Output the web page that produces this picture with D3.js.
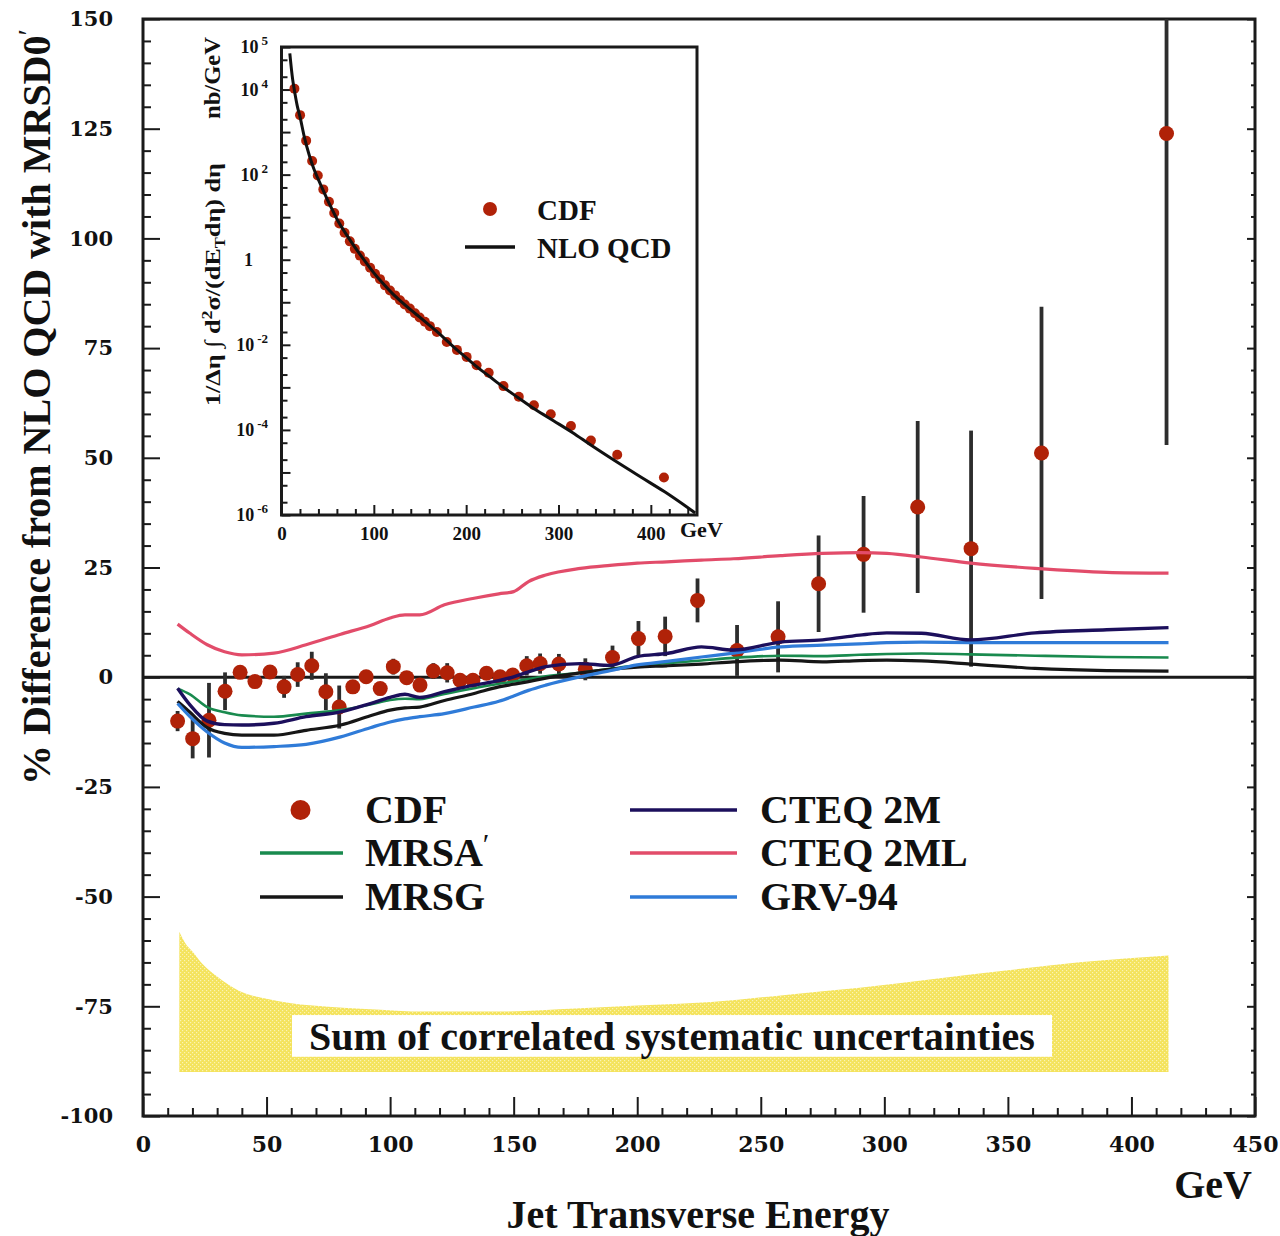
<!DOCTYPE html>
<html>
<head>
<meta charset="utf-8">
<script src="https://cdn.jsdelivr.net/npm/d3@7"></script>
<style>
  html, body { margin: 0; padding: 0; background: #fff; }
  svg { display: block; }
</style>
</head>
<body>
<svg id="chart" width="1280" height="1236"></svg>
<script>
// ---- CDF inclusive jet data: ET bins, % difference from NLO QCD (MRSD0'), errors ----
const cdfEt = [14.0, 20.1, 26.7, 33.2, 39.3, 45.3, 51.4, 57.1, 62.6, 68.3, 74.0, 79.4, 84.9, 90.3, 96.0,
  101.3, 106.7, 112.1, 117.5, 123.1, 128.3, 133.5, 139.0, 144.5, 149.6, 155.3, 160.7, 168.3, 179.0, 190.0,
  200.5, 211.3, 224.4, 240.4, 257.0, 273.4, 291.6, 313.5, 335.1, 363.6, 414.2];
const cdfDiff = [-10.0, -14.0, -9.8, -3.2, 1.1, -1.0, 1.2, -2.2, 0.6, 2.6, -3.3, -6.8, -2.2, 0.1, -2.6,
  2.4, -0.1, -1.8, 1.4, 1.0, -0.7, -0.7, 0.9, 0.1, 0.5, 2.6, 3.1, 3.0, 1.8, 4.5,
  8.8, 9.3, 17.5, 6.1, 9.2, 21.3, 28.0, 38.8, 29.3, 51.1, 123.9];
const cdfErr = [2.3, 4.5, 8.5, 4.3, 1.0, 1.0, 1.0, 2.5, 2.8, 3.2, 4.2, 4.9, 1.5, 1.5, 1.5,
  1.8, 1.0, 1.0, 1.8, 2.2, 1.5, 1.0, 1.0, 1.5, 1.5, 2.2, 2.3, 2.3, 2.5, 2.7,
  4.0, 4.5, 5.0, 5.8, 8.1, 11.0, 13.3, 19.6, 26.9, 33.3, 71.0];

// ---- PDF predictions relative to MRSD0' (%) ----
const pdfEt = [14, 19, 26, 33, 40, 53, 66, 80, 92, 100, 106, 112, 122, 134, 144, 150, 156, 163,
  177, 189, 200, 212, 226, 239, 258, 275, 290, 301, 315, 335, 361, 390, 415];
const mrsaPrime = [-2.6, -3.9, -6.8, -8.0, -8.7, -9.0, -8.3, -7.5, -6.2, -5.2, -4.9, -5.0, -3.8, -2.5, -1.5, -1.0, -0.4, 0.2,
  1.0, 1.9, 2.7, 3.2, 3.8, 4.4, 4.9, 4.8, 5.1, 5.3, 5.4, 5.2, 4.9, 4.6, 4.5];
const mrsg = [-5.5, -8.0, -11.5, -12.8, -13.2, -13.2, -12.1, -10.9, -8.8, -7.5, -7.0, -6.8, -5.3, -3.7, -2.2, -1.6, -1.0, -0.2,
  1.0, 1.8, 2.3, 2.6, 3.0, 3.5, 3.9, 3.5, 3.8, 3.9, 3.7, 3.0, 2.0, 1.5, 1.4];
const cteq2m = [-2.5, -6.3, -10.0, -10.8, -10.9, -10.5, -9.0, -7.9, -6.0, -4.6, -3.9, -4.6, -3.3, -1.8, -0.8, 0.1, 1.2, 2.4,
  3.1, 2.7, 4.7, 5.4, 6.9, 6.2, 8.0, 8.5, 9.6, 10.1, 10.0, 8.5, 10.1, 10.8, 11.3];
const cteq2ml = [12.1, 10.0, 7.4, 5.8, 5.1, 5.5, 7.4, 9.8, 11.8, 13.5, 14.2, 14.2, 16.5, 18.0, 19.0, 19.5, 21.8, 23.3,
  24.8, 25.5, 26.0, 26.3, 26.7, 27.0, 27.7, 28.2, 28.4, 28.2, 27.4, 26.0, 24.8, 23.9, 23.7];
const grv94 = [-6.0, -9.0, -12.5, -15.0, -16.0, -15.8, -15.3, -13.6, -11.5, -10.2, -9.5, -9.0, -8.3, -6.8, -5.5, -4.3, -3.0, -1.8,
  0.1, 1.5, 2.8, 3.6, 4.6, 5.5, 6.9, 7.3, 7.6, 7.9, 8.0, 7.9, 7.9, 7.9, 7.9];

// ---- Sum of correlated systematic uncertainties (band, %) ----
const systEt = [14.7, 17, 20, 24, 30, 39, 50, 60, 75, 90, 115, 145, 175, 200, 230, 260, 290, 320, 350, 380, 415];
const systUpper = [-58.0, -60.5, -62.5, -65.3, -68.2, -71.5, -73.3, -74.3, -75.1, -75.6, -76.2, -76.2, -75.5, -74.8,
  -74.0, -72.4, -70.8, -68.8, -66.8, -64.9, -63.4];
const systLower = [-90, -90, -90, -90, -90, -90, -90, -90, -90, -90, -90, -90, -90, -90, -90, -90, -90, -90, -90, -90, -90];

// ---- Inset: cross section (nb/GeV) ----
const cdfXsec = [1.05e4, 2.5e3, 6.3e2, 2.1e2, 9.5e1, 4.5e1, 2.3e1, 1.25e1, 7.1, 4.3, 2.7, 1.8, 1.25, 0.91, 0.65,
  0.47, 0.35, 0.25, 0.19, 0.145, 0.112, 0.089, 0.071, 0.055, 0.044, 0.035, 0.0275, 0.020, 0.0117, 0.0076,
  0.0052, 0.0033, 0.0022, 0.00107, 0.0006, 0.00038, 0.000234, 0.000123, 0.000056, 0.000026, 0.0000076];
const nloEt = [9, 12, 14, 17, 20, 25, 30, 35, 40, 45, 50, 55, 60, 70, 80, 90, 100, 110, 120, 130, 140, 150, 160,
  170, 180, 190, 200, 212, 225, 240, 256, 275, 295, 315, 335, 365, 390, 415, 448];
const nloXsec = [7.1e4, 1.78e4, 9.5e3, 4.2e3, 2.3e3, 7.2e2, 2.9e2, 1.38e2, 7.6e1, 4.3e1, 2.5e1, 1.5e1, 9.1, 4.0, 1.9,
  0.95, 0.49, 0.275, 0.162, 0.102, 0.066, 0.044, 0.029, 0.019, 0.012, 7.6e-3, 5.0e-3, 3.0e-3, 1.82e-3, 1.02e-3,
  5.8e-4, 3.0e-4, 1.62e-4, 8.7e-5, 4.4e-5, 1.66e-5, 7.6e-6, 3.5e-6, 1.12e-6];

// ---- Axis ticks ----
const yMajorTicks = [-100, -75, -50, -25, 0, 25, 50, 75, 100, 125, 150];
const xMajorTicks = [0, 50, 100, 150, 200, 250, 300, 350, 400, 450];
const insetXTicks = [0, 100, 200, 300, 400];
const insetYLabelled = [5, 4, 2, 0, -2, -4, -6];

// ---- Series styling ----
const series = [
  { name: "MRSA", prime: true, values: mrsaPrime, color: "#198a4e", width: 2.6 },
  { name: "MRSG", values: mrsg, color: "#161616", width: 3.2 },
  { name: "GRV-94", values: grv94, color: "#2f7bd8", width: 3.2 },
  { name: "CTEQ 2M", values: cteq2m, color: "#1c0f5c", width: 3.4 },
  { name: "CTEQ 2ML", values: cteq2ml, color: "#e24c6a", width: 3.2 }
];
const dotColor = "#b02208";
const barColor = "#2d2d2d";
const serif = "'Liberation Serif', 'Times New Roman', serif";
const digits = "'DejaVu Serif', serif";
const plain = d => String(d);   // ASCII hyphen for negatives

const svg = d3.select("#chart");

const x = d3.scaleLinear().domain([0, 450]).range([143, 1255]);
const y = d3.scaleLinear().domain([-100, 150]).range([1116, 19]);

const defs = svg.append("defs");
const pat = defs.append("pattern").attr("id", "stipple")
  .attr("patternUnits", "userSpaceOnUse").attr("width", 4).attr("height", 4);
pat.append("rect").attr("width", 4).attr("height", 4).attr("fill", "#f4e35c");
pat.append("rect").attr("x", 0).attr("y", 0).attr("width", 1.2).attr("height", 1.2).attr("fill", "#fbf3b4");
pat.append("rect").attr("x", 2).attr("y", 2).attr("width", 1.2).attr("height", 1.2).attr("fill", "#fbf3b4");
defs.append("clipPath").attr("id", "plotClip").append("rect")
  .attr("x", x(0)).attr("y", y(150)).attr("width", x(450) - x(0)).attr("height", y(-100) - y(150));

// ---- Systematic band ----
const band = systEt.map((e, i) => ({ e, hi: systUpper[i], lo: systLower[i] }));
svg.append("path").datum(band)
  .attr("fill", "url(#stipple)")
  .attr("d", d3.area().x(d => x(d.e)).y0(d => y(d.lo)).y1(d => y(d.hi)).curve(d3.curveMonotoneX));

const bandLabel = "Sum of correlated systematic uncertainties";
svg.append("rect").attr("x", 292).attr("y", y(-77)).attr("width", 760).attr("height", y(-86.5) - y(-77))
  .attr("fill", "#fff");
svg.append("text").attr("x", 672).attr("y", y(-85))
  .attr("text-anchor", "middle").attr("font-family", serif).attr("font-weight", "bold")
  .attr("font-size", 40).attr("fill", "#111").text(bandLabel);

// ---- Axes ----
function styleAxis(g) {
  g.select(".domain").remove();
  g.selectAll(".tick line").attr("stroke", "#1a1a1a").attr("stroke-width", 2);
  g.selectAll(".tick text").attr("font-family", digits).attr("font-weight", "bold").attr("fill", "#111");
}
const yMinor = d3.range(-100, 151, 5).filter(v => v % 25 !== 0);
const xMinor = d3.range(0, 451, 10).filter(v => v % 50 !== 0);

svg.append("g").attr("transform", `translate(${x(0)},0)`)
  .call(d3.axisLeft(y).tickValues(yMajorTicks).tickSizeInner(-17).tickSizeOuter(0).tickPadding(30)
    .tickFormat(plain))
  .call(styleAxis).call(g => g.selectAll(".tick text").attr("font-size", 21));
svg.append("g").attr("transform", `translate(${x(0)},0)`)
  .call(d3.axisLeft(y).tickValues(yMinor).tickSizeInner(-8).tickSizeOuter(0).tickFormat(""))
  .call(styleAxis);
svg.append("g").attr("transform", `translate(${x(450)},0)`)
  .call(d3.axisRight(y).tickValues(yMajorTicks).tickSizeInner(-8).tickSizeOuter(0).tickFormat(""))
  .call(styleAxis);
svg.append("g").attr("transform", `translate(${x(450)},0)`)
  .call(d3.axisRight(y).tickValues(yMinor).tickSizeInner(-4).tickSizeOuter(0).tickFormat(""))
  .call(styleAxis);
svg.append("g").attr("transform", `translate(0,${y(-100)})`)
  .call(d3.axisBottom(x).tickValues(xMajorTicks).tickSizeInner(-19).tickSizeOuter(0).tickPadding(20)
    .tickFormat(plain))
  .call(styleAxis).call(g => g.selectAll(".tick text").attr("font-size", 22));
svg.append("g").attr("transform", `translate(0,${y(-100)})`)
  .call(d3.axisBottom(x).tickValues(xMinor).tickSizeInner(-8).tickSizeOuter(0).tickFormat(""))
  .call(styleAxis);

// frame
svg.append("rect").attr("x", x(0)).attr("y", y(150)).attr("width", x(450) - x(0)).attr("height", y(-100) - y(150))
  .attr("fill", "none").attr("stroke", "#1a1a1a").attr("stroke-width", 3);
// zero line
svg.append("line").attr("x1", x(0)).attr("x2", x(450)).attr("y1", y(0)).attr("y2", y(0))
  .attr("stroke", "#1a1a1a").attr("stroke-width", 3);

// ---- CDF points with error bars ----
const cdf = cdfEt.map((e, i) => ({ e, v: cdfDiff[i], err: cdfErr[i] }));
const plot = svg.append("g").attr("clip-path", "url(#plotClip)");
plot.selectAll("line.err").data(cdf).join("line").attr("class", "err")
  .attr("x1", d => x(d.e)).attr("x2", d => x(d.e))
  .attr("y1", d => y(d.v - d.err)).attr("y2", d => y(d.v + d.err))
  .attr("stroke", barColor).attr("stroke-width", 3.8);
plot.selectAll("circle.pt").data(cdf).join("circle").attr("class", "pt")
  .attr("cx", d => x(d.e)).attr("cy", d => y(d.v)).attr("r", 7.5).attr("fill", dotColor);

// ---- PDF curves ----
const line = d3.line().x(d => x(d.e)).y(d => y(d.v)).curve(d3.curveMonotoneX);
series.forEach(s => {
  plot.append("path").datum(pdfEt.map((e, i) => ({ e, v: s.values[i] })))
    .attr("fill", "none").attr("stroke", s.color).attr("stroke-width", s.width)
    .attr("stroke-linejoin", "round").attr("d", line);
});

// ---- Main legend ----
const leg = svg.append("g").attr("font-family", serif).attr("font-weight", "bold").attr("font-size", 40).attr("fill", "#111");
const legendRows = [
  { col: 0, row: 0, label: "CDF", dot: true },
  { col: 0, row: 1, label: "MRSA", prime: true, color: "#198a4e" },
  { col: 0, row: 2, label: "MRSG", color: "#161616" },
  { col: 1, row: 0, label: "CTEQ 2M", color: "#1c0f5c" },
  { col: 1, row: 1, label: "CTEQ 2ML", color: "#e24c6a" },
  { col: 1, row: 2, label: "GRV-94", color: "#2f7bd8" }
];
const colX = [{ l0: 260, l1: 343, t: 365 }, { l0: 630, l1: 737, t: 760 }];
const rowY = [810, 853, 897];
legendRows.forEach(r => {
  const c = colX[r.col], yy = rowY[r.row];
  if (r.dot) {
    leg.append("circle").attr("cx", (c.l0 + c.l1) / 2 - 1).attr("cy", yy).attr("r", 10).attr("fill", dotColor);
  } else {
    leg.append("line").attr("x1", c.l0).attr("x2", c.l1).attr("y1", yy).attr("y2", yy)
      .attr("stroke", r.color).attr("stroke-width", 3.5);
  }
  const t = leg.append("text").attr("x", c.t).attr("y", yy + 13).text(r.label);
  if (r.prime) t.append("tspan").attr("font-weight", "normal").attr("font-size", 30).attr("dy", -12).text("\u2032");
});

// ---- Axis titles ----
svg.append("text").attr("transform", `translate(50,785) rotate(-90)`)
  .attr("font-family", serif).attr("font-weight", "bold").attr("font-size", 40).attr("fill", "#111")
  .text("% Difference from NLO QCD with MRSD0")
  .append("tspan").attr("font-weight", "normal").attr("font-size", 30).attr("dy", -12).text("\u2032");
svg.append("text").attr("x", 698).attr("y", 1228).attr("text-anchor", "middle")
  .attr("font-family", serif).attr("font-weight", "bold").attr("font-size", 40).attr("fill", "#111")
  .text("Jet Transverse Energy");
svg.append("text").attr("x", 1252).attr("y", 1198).attr("text-anchor", "end")
  .attr("font-family", serif).attr("font-weight", "bold").attr("font-size", 40).attr("fill", "#111")
  .text("GeV");

// ---- Inset: cross section vs ET ----
const xi = d3.scaleLinear().domain([0, 450]).range([281.5, 697]);
const yi = d3.scaleLog().domain([1e-6, 1e5]).range([515, 47]);
const inset = svg.append("g");
inset.append("rect").attr("x", xi(0)).attr("y", yi(1e5)).attr("width", xi(450) - xi(0)).attr("height", yi(1e-6) - yi(1e5))
  .attr("fill", "#fff");

const decades = d3.range(-6, 6).map(p => Math.pow(10, p));
const minorLog = d3.range(-6, 5).flatMap(p => [2 * Math.pow(10, p), 5 * Math.pow(10, p)]);
inset.append("g").attr("transform", `translate(${xi(0)},0)`)
  .call(d3.axisLeft(yi).tickValues(decades).tickSizeInner(-9).tickSizeOuter(0).tickFormat(""))
  .call(styleAxis);
inset.append("g").attr("transform", `translate(${xi(0)},0)`)
  .call(d3.axisLeft(yi).tickValues(minorLog).tickSizeInner(-6).tickSizeOuter(0).tickFormat(""))
  .call(styleAxis);
inset.append("g").attr("transform", `translate(0,${yi(1e-6)})`)
  .call(d3.axisBottom(xi).tickValues(insetXTicks).tickSizeInner(-10).tickSizeOuter(0).tickPadding(12)
    .tickFormat(plain))
  .call(styleAxis)
  .call(g => g.selectAll(".tick text").attr("font-family", serif).attr("font-size", 19));
inset.append("g").attr("transform", `translate(0,${yi(1e-6)})`)
  .call(d3.axisBottom(xi).tickValues(d3.range(20, 450, 20).filter(v => v % 100 !== 0))
    .tickSizeInner(-6).tickSizeOuter(0).tickFormat(""))
  .call(styleAxis);

// exponent tick labels
const ylab = inset.append("g").attr("font-family", serif).attr("font-weight", "bold").attr("fill", "#111");
insetYLabelled.forEach(p => {
  const yy = yi(Math.pow(10, p));
  if (p === 0) {
    ylab.append("text").attr("x", 253).attr("y", yy + 6).attr("text-anchor", "end").attr("font-size", 18).text("1");
  } else {
    const t = ylab.append("text").attr("x", 268).attr("y", yy + 6).attr("text-anchor", "end").attr("font-size", 18);
    t.append("tspan").text("10");
    t.append("tspan").attr("dx", 3).attr("dy", -8).attr("font-size", 13).text(p);
  }
});

inset.append("text").attr("x", 680).attr("y", 537).attr("font-family", serif).attr("font-weight", "bold")
  .attr("font-size", 22).attr("fill", "#111").text("GeV");

// rotated inset y title
const it = inset.append("text").attr("transform", "translate(220,406) rotate(-90)")
  .attr("font-family", serif).attr("font-weight", "bold").attr("font-size", 22).attr("fill", "#111")
  .attr("textLength", 243).attr("lengthAdjust", "spacingAndGlyphs");
it.append("tspan").text("1/\u0394\u03b7 \u222b d");
it.append("tspan").attr("font-size", 15).attr("dy", -8).text("2");
it.append("tspan").attr("dy", 8).text("\u03c3/(dE");
it.append("tspan").attr("font-size", 14).attr("dy", 5).text("T");
it.append("tspan").attr("dy", -5).text("d\u03b7) d\u03b7");
inset.append("text").attr("transform", "translate(220,119) rotate(-90)")
  .attr("font-family", serif).attr("font-weight", "bold").attr("font-size", 23).attr("fill", "#111")
  .attr("textLength", 82).attr("lengthAdjust", "spacingAndGlyphs")
  .text("nb/GeV");

// data and NLO curve
const cdfX = cdfEt.map((e, i) => ({ e, v: cdfXsec[i] }));
inset.selectAll("circle.ipt").data(cdfX).join("circle").attr("class", "ipt")
  .attr("cx", d => xi(d.e)).attr("cy", d => yi(d.v)).attr("r", 5).attr("fill", dotColor);
inset.append("path").datum(nloEt.map((e, i) => ({ e, v: nloXsec[i] })))
  .attr("fill", "none").attr("stroke", "#111").attr("stroke-width", 3)
  .attr("d", d3.line().x(d => xi(d.e)).y(d => yi(d.v)).curve(d3.curveMonotoneX));

inset.append("rect").attr("x", xi(0)).attr("y", yi(1e5)).attr("width", xi(450) - xi(0)).attr("height", yi(1e-6) - yi(1e5))
  .attr("fill", "none").attr("stroke", "#1a1a1a").attr("stroke-width", 3);

// inset legend
const il = inset.append("g").attr("font-family", serif).attr("font-weight", "bold").attr("font-size", 29).attr("fill", "#111");
il.append("circle").attr("cx", 490).attr("cy", 209).attr("r", 7).attr("fill", dotColor);
il.append("text").attr("x", 537).attr("y", 220).text("CDF");
il.append("line").attr("x1", 465).attr("x2", 515).attr("y1", 247).attr("y2", 247).attr("stroke", "#111").attr("stroke-width", 3.5);
il.append("text").attr("x", 537).attr("y", 258).text("NLO QCD");
</script>
</body>
</html>
